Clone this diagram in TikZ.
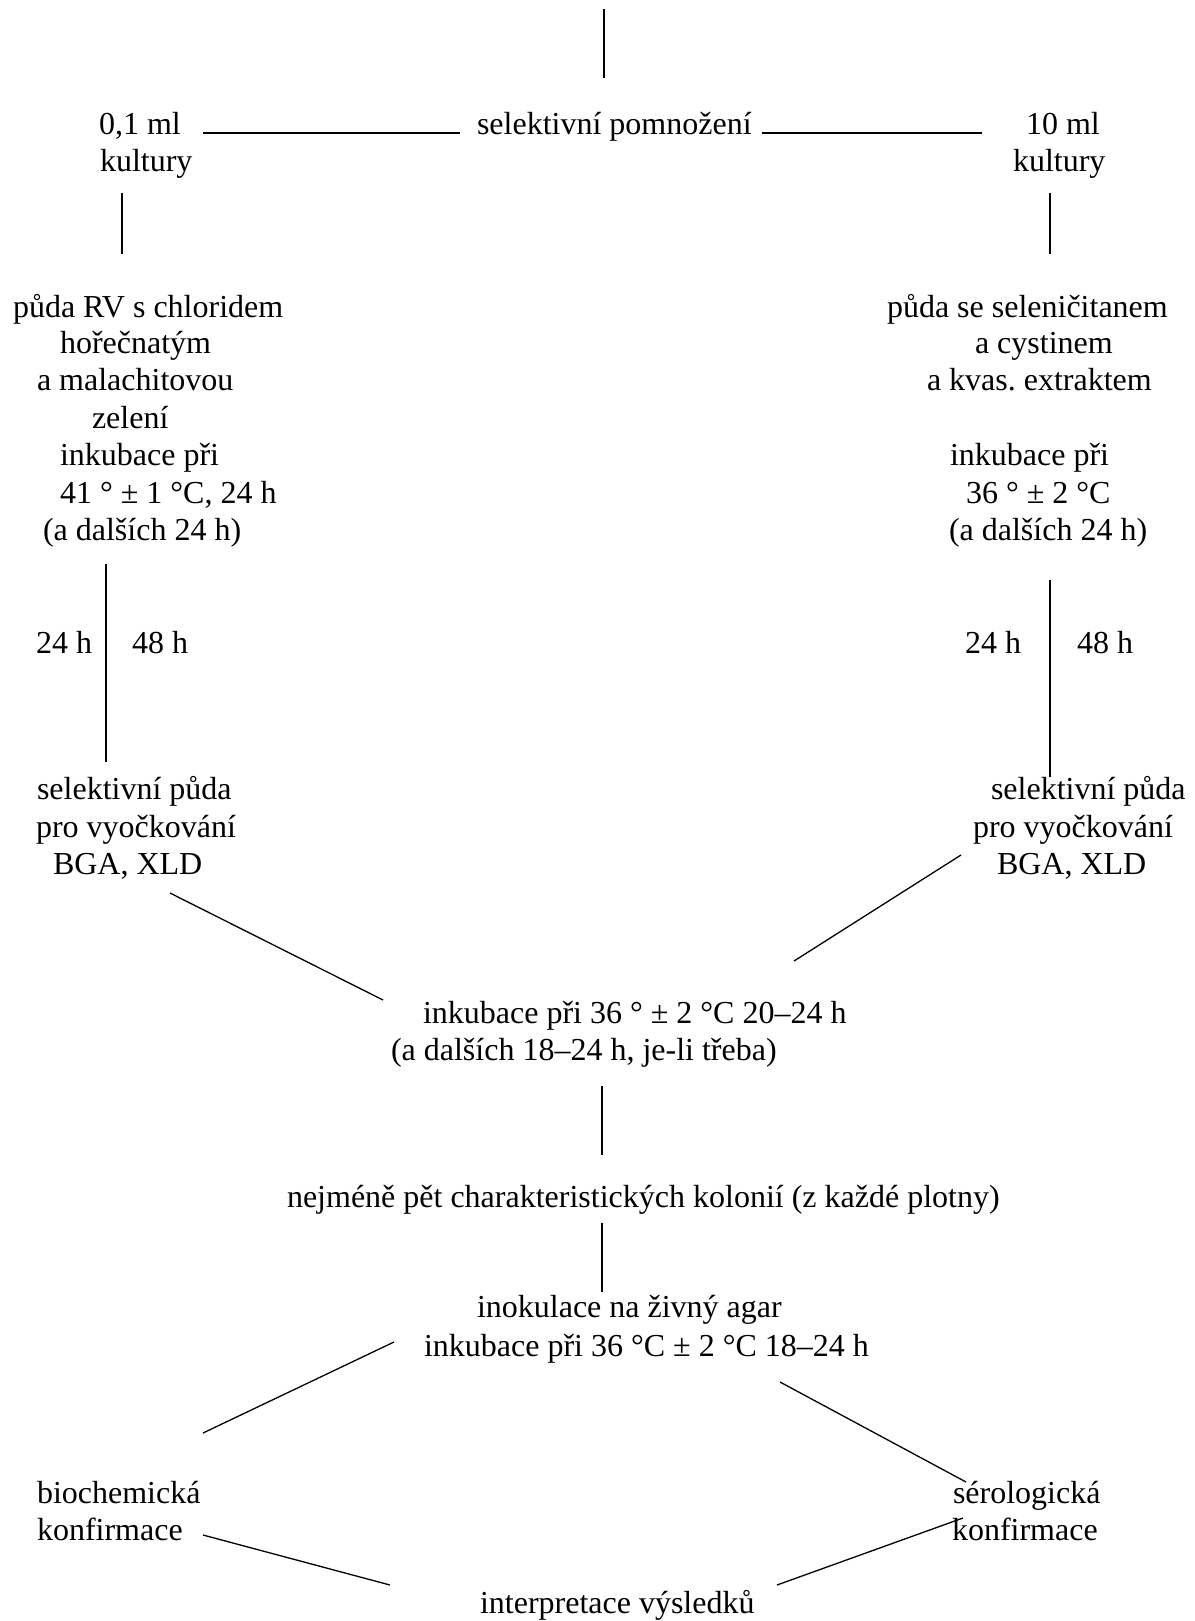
\documentclass[tikz,border=0pt]{standalone}
\usepackage{fontspec}
\setmainfont{Liberation Serif}
\frenchspacing
\begin{document}
\begin{tikzpicture}[x=0.5pt,y=-0.5pt,
  txt/.style={anchor=base west,inner sep=0pt,outer sep=0pt,font=\fontsize{16pt}{18pt}\selectfont},
  conn/.style={line width=0.65pt,black}]
\useasboundingbox (0,0) rectangle (1194,1621);
% texts
\node[txt] (sp) at (477,135) {selektivní pomnožení};
\node[txt] (l01) at (99,135) {0,1 ml};
\node[txt] (lk) at (100,172) {kultury};
\node[txt] (r10) at (1026,135) {10 ml};
\node[txt] (rk) at (1013,172) {kultury};
\node[txt] (la1) at (13,317) {půda RV s chloridem};
\node[txt] (la2) at (60,353) {hořečnatým};
\node[txt] (la3) at (37,390) {a malachitovou};
\node[txt] (la4) at (92,428) {zelení};
\node[txt] (la5) at (60,465) {inkubace při};
\node[txt] (la6) at (60,503) {41 ° ± 1 °C, 24 h};
\node[txt] (la7) at (43,540) {(a dalších 24 h)};
\node[txt] (ra1) at (887,317) {půda se seleničitanem};
\node[txt] (ra2) at (975,353) {a cystinem};
\node[txt] (ra3) at (927,390) {a kvas. extraktem};
\node[txt] (ra5) at (950,465) {inkubace při};
\node[txt] (ra6) at (966,503) {36 ° ± 2 °C};
\node[txt] (ra7) at (949,540) {(a dalších 24 h)};
\node[txt] (l24) at (36,653) {24 h};
\node[txt] (l48) at (132,653) {48 h};
\node[txt] (r24) at (965,653) {24 h};
\node[txt] (r48) at (1077,653) {48 h};
\node[txt] (ls1) at (37,799) {selektivní půda};
\node[txt] (ls2) at (36,837) {pro vyočkování};
\node[txt] (ls3) at (53,874) {BGA, XLD};
\node[txt] (rs1) at (991,799) {selektivní půda};
\node[txt] (rs2) at (973,837) {pro vyočkování};
\node[txt] (rs3) at (997,874) {BGA, XLD};
\node[txt] (ink1) at (423,1023) {inkubace při 36 ° ± 2 °C 20–24 h};
\node[txt] (ink2) at (391,1060) {(a dalších 18–24 h, je-li třeba)};
\node[txt] (nej) at (287,1207) {nejméně pět charakteristických kolonií (z každé plotny)};
\node[txt] (ino1) at (477,1317) {inokulace na živný agar};
\node[txt] (ino2) at (424,1356) {inkubace při 36 °C ± 2 °C 18–24 h};
\node[txt] (bio1) at (37,1503) {biochemická};
\node[txt] (bio2) at (37,1540) {konfirmace};
\node[txt] (ser1) at (953,1503) {sérologická};
\node[txt] (ser2) at (952,1540) {konfirmace};
\node[txt] (int) at (480,1613) {interpretace výsledků};
% connector end points
\coordinate (c1a) at (604,9);    \coordinate (c1b) at (604,78);
\coordinate (c2a) at (203,133);  \coordinate (c2b) at (460,133);
\coordinate (c3a) at (762,133);  \coordinate (c3b) at (982,133);
\coordinate (c4a) at (122,193);  \coordinate (c4b) at (122,254);
\coordinate (c5a) at (1050,193); \coordinate (c5b) at (1050,254);
\coordinate (c6a) at (106,564);  \coordinate (c6b) at (106,762);
\coordinate (c7a) at (1050,580); \coordinate (c7b) at (1050,777);
\coordinate (c8a) at (170,893);  \coordinate (c8b) at (383,1000);
\coordinate (c9a) at (961,855);  \coordinate (c9b) at (794,961);
\coordinate (c10a) at (602,1086); \coordinate (c10b) at (602,1155);
\coordinate (c11a) at (602,1223); \coordinate (c11b) at (602,1292);
\coordinate (c12a) at (394,1342); \coordinate (c12b) at (203,1433);
\coordinate (c13a) at (780,1382); \coordinate (c13b) at (966,1482);
\coordinate (c14a) at (203,1535); \coordinate (c14b) at (390,1585);
\coordinate (c15a) at (777,1585); \coordinate (c15b) at (963,1518);
% connectors
\draw[conn] (c1a) -- (c1b);
\draw[conn] (c2a) -- (c2b);
\draw[conn] (c3a) -- (c3b);
\draw[conn] (c4a) -- (c4b);
\draw[conn] (c5a) -- (c5b);
\draw[conn] (c6a) -- (c6b);
\draw[conn] (c7a) -- (c7b);
\draw[conn] (c8a) -- (c8b);
\draw[conn] (c9a) -- (c9b);
\draw[conn] (c10a) -- (c10b);
\draw[conn] (c11a) -- (c11b);
\draw[conn] (c12a) -- (c12b);
\draw[conn] (c13a) -- (c13b);
\draw[conn] (c14a) -- (c14b);
\draw[conn] (c15a) -- (c15b);
\end{tikzpicture}
\end{document}
